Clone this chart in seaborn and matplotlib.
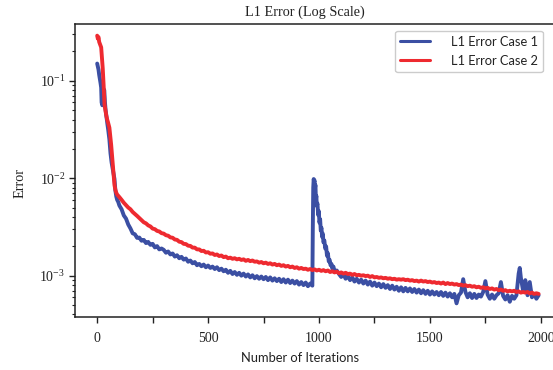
import matplotlib
matplotlib.use("Agg")
import numpy as np
import pandas as pd
import seaborn as sns
import matplotlib.pyplot as plt
from matplotlib.ticker import FixedLocator, FixedFormatter

# ---------------- data ----------------
iter_case1 = ([0, 3, 6, 9, 12, 15, 18, 20, 23, 26, 29, 32, 35, 38, 42, 46, 50, 55, 60, 65,
               70, 74, 78, 82, 86, 90, 95]
              + list(range(100, 970, 10))
              + [970, 972, 974, 976, 978, 980, 982, 984, 986, 988, 990, 993, 996, 999, 1002,
                 1005, 1008, 1011, 1014, 1017, 1020, 1024, 1028, 1032, 1036, 1040, 1044, 1048,
                 1052, 1056, 1060, 1065, 1070, 1080, 1090]
              + list(range(1100, 1900, 10))
              + [1900, 1905, 1910, 1920, 1930, 1940, 1950, 1960, 1970, 1980, 1990])

err_case1 = ([0.15, 0.14, 0.13, 0.115, 0.105, 0.095, 0.085, 0.060, 0.056, 0.058, 0.082, 0.080,
              0.060, 0.050, 0.042, 0.036, 0.031, 0.025, 0.018, 0.0145, 0.0125, 0.011, 0.0098,
              0.0075, 0.0065, 0.0060, 0.0057]
             # 100 .. 960
             + [0.00525, 0.00480, 0.00415, 0.00385, 0.00335, 0.00305, 0.00272, 0.00266, 0.00244, 0.00246,
                0.00228, 0.00233, 0.00216, 0.00222, 0.00207, 0.00212, 0.00195, 0.00201, 0.00186, 0.00190,
                0.00184, 0.00172, 0.00177, 0.00165, 0.00169, 0.00157, 0.00162, 0.00151, 0.00156, 0.00146,
                0.00150, 0.00139, 0.00143, 0.00134, 0.00138, 0.00128, 0.00132, 0.00125, 0.00130, 0.00122,
                0.00127, 0.00120, 0.00124, 0.00117, 0.00122, 0.00114, 0.00118, 0.00111, 0.00115, 0.00107,
                0.00112, 0.00104, 0.00109, 0.00102, 0.00107, 0.00100, 0.00105, 0.00098, 0.00103, 0.00096,
                0.00101, 0.00094, 0.00099, 0.00093, 0.00098, 0.00092, 0.00097, 0.00090, 0.00096, 0.00089,
                0.00094, 0.00088, 0.00093, 0.00086, 0.00092, 0.00085, 0.00091, 0.00084, 0.00089, 0.00083,
                0.00088, 0.00081, 0.00086, 0.00080, 0.00085, 0.00078, 0.00083]
             # spike near 1000
             + [0.00079, 0.0030, 0.0080, 0.0098, 0.0092, 0.0095, 0.0080, 0.0085, 0.0060, 0.0066,
                0.0052, 0.0055, 0.0042, 0.0046, 0.0035, 0.0038, 0.0029, 0.0031, 0.0025, 0.0027,
                0.0022, 0.0023, 0.0019, 0.0020, 0.0016, 0.0017, 0.0014, 0.00145, 0.00128, 0.00132,
                0.00118, 0.00124, 0.00110, 0.00113, 0.00104]
             # 1100 .. 1890
             + [0.00097, 0.00103, 0.00093, 0.00099, 0.00090, 0.00096, 0.00087, 0.00093, 0.00085, 0.00091,
                0.00083, 0.00089, 0.00081, 0.00087, 0.00079, 0.00085, 0.00078, 0.00083, 0.00076, 0.00082,
                0.00075, 0.00080, 0.00073, 0.00079, 0.00072, 0.00077, 0.00070, 0.00076, 0.00069, 0.00075,
                0.00069, 0.00074, 0.00068, 0.00073, 0.00067, 0.00072, 0.00066, 0.00071, 0.00065, 0.00070,
                0.00064, 0.00069, 0.00064, 0.00068, 0.00063, 0.00068, 0.00062, 0.00067, 0.00061, 0.00066,
                0.00060, 0.00065, 0.00052, 0.00063, 0.00067, 0.00092, 0.00068, 0.00060, 0.00066, 0.00059,
                0.00065, 0.00059, 0.00064, 0.00061, 0.00068, 0.00088, 0.00064, 0.00058, 0.00064, 0.00058,
                0.00063, 0.00066, 0.00086, 0.00062, 0.00057, 0.00063, 0.00054, 0.00062, 0.00058, 0.00063]
             # 1900 .. 1990
             + [0.00105, 0.00120, 0.00095, 0.00070, 0.00090, 0.00063, 0.00086, 0.00060, 0.00065,
                0.00058, 0.00063])

iter_case2 = ([0, 3, 6, 9, 12, 15, 18, 21, 25, 29, 33, 37, 41, 45, 48, 52, 55, 59, 63, 67,
               70, 74, 78, 82, 86, 90, 95]
              + list(range(100, 2000, 10)))

err_case2 = ([0.29, 0.27, 0.28, 0.25, 0.24, 0.23, 0.22, 0.18, 0.134, 0.09, 0.057, 0.050, 0.044,
              0.040, 0.038, 0.035, 0.033, 0.027, 0.022, 0.017, 0.0137, 0.011, 0.0085, 0.0076,
              0.0071, 0.0068, 0.0066]
             + [0.0064, 0.0060, 0.0056, 0.0053, 0.0050, 0.0048, 0.0045, 0.0043, 0.0041, 0.0039,
                0.00372, 0.00353, 0.00344, 0.00328, 0.00320, 0.00304, 0.00300, 0.00288, 0.00284, 0.00273,
                0.00270, 0.00260, 0.00257, 0.00247, 0.00245, 0.00235, 0.00233, 0.00223, 0.00221, 0.00212,
                0.00211, 0.00203, 0.00202, 0.00194, 0.00194, 0.00186, 0.00186, 0.00179, 0.00180, 0.00173,
                0.00174, 0.00168, 0.00169, 0.00163, 0.00165, 0.00159, 0.00161, 0.00155, 0.00157, 0.00151,
                0.00153, 0.00149, 0.00151, 0.00147, 0.00149, 0.00145, 0.00147, 0.00142, 0.00145, 0.00141,
                0.00143, 0.00139, 0.00140, 0.00136, 0.00138, 0.00134, 0.00136, 0.00132, 0.00134, 0.00130,
                0.00132, 0.00128, 0.00130, 0.00126, 0.00128, 0.00124, 0.00126, 0.00122, 0.00124, 0.00120,
                0.00122, 0.00118, 0.00120, 0.00117, 0.00118, 0.00115, 0.00117, 0.00114, 0.00116, 0.00113,
                0.00115, 0.00112, 0.00114, 0.00111, 0.00113, 0.00109, 0.00111, 0.00108, 0.00110, 0.00106,
                0.00108, 0.00105, 0.00107, 0.00104, 0.00105, 0.00102, 0.00104, 0.00101, 0.00102, 0.00100,
                0.00101, 0.00099, 0.00100, 0.00097, 0.00099, 0.00096, 0.00097, 0.00095, 0.00096, 0.00094,
                0.00095, 0.00093, 0.00094, 0.00092, 0.00093, 0.00091, 0.00092, 0.00091, 0.00092, 0.00090,
                0.00091, 0.00089, 0.00090, 0.00088, 0.00089, 0.00087, 0.00089, 0.00087, 0.00088, 0.00086,
                0.00087, 0.00085, 0.00086, 0.00084, 0.00085, 0.00083, 0.00085, 0.00082, 0.00084, 0.00082,
                0.00083, 0.00081, 0.00082, 0.00080, 0.00081, 0.00079, 0.00080, 0.00078, 0.00079, 0.00077,
                0.00078, 0.00076, 0.00077, 0.00075, 0.00076, 0.00074, 0.00075, 0.00073, 0.00074, 0.00072,
                0.00073, 0.00071, 0.00072, 0.00070, 0.00071, 0.00069, 0.00070, 0.00069, 0.00070, 0.00068,
                0.00069, 0.00067, 0.00068, 0.00067, 0.00068, 0.00066, 0.00067, 0.00065, 0.00066, 0.00065])

series_names = ["L1 Error Case 1", "L1 Error Case 2"]
series_colors = ["#3B4FA3", "#EE2A30"]
x_ticks = [0, 250, 500, 750, 1000, 1250, 1500, 1750, 2000]
x_tick_labels = ["0", "", "500", "", "1000", "", "1500", "", "2000"]

# ---------------- figure ----------------
sns.set_style("ticks")
plt.rcParams["font.family"] = ["Liberation Serif", "DejaVu Serif"]
plt.rcParams["mathtext.fontset"] = "custom"
plt.rcParams["mathtext.rm"] = "Liberation Serif"
plt.rcParams["mathtext.it"] = "Liberation Serif:italic"

df = pd.concat([
    pd.DataFrame({"Iteration": iter_case1, "Error": err_case1, "Case": series_names[0]}),
    pd.DataFrame({"Iteration": iter_case2, "Error": err_case2, "Case": series_names[1]}),
], ignore_index=True)

W, H = 553, 370
fig = plt.figure(figsize=(W / 100, H / 100), dpi=100)
ax_left, ax_right, ax_top, ax_bottom = 75, 562.8, 24, 317
ax = fig.add_axes([ax_left / W, 1 - ax_bottom / H, (ax_right - ax_left) / W, (ax_bottom - ax_top) / H])

sns.lineplot(data=df, x="Iteration", y="Error", hue="Case", palette=series_colors,
             estimator=None, sort=False, linewidth=2.8, ax=ax)

ax.set_yscale("log")
ax.set_xlim(-100, 2099)
ax.set_ylim(10 ** -3.424, 10 ** -0.418)

ax.xaxis.set_major_locator(FixedLocator(x_ticks))
ax.xaxis.set_major_formatter(FixedFormatter(x_tick_labels))

for side in ["left", "bottom", "top", "right"]:
    ax.spines[side].set_visible(True)
    ax.spines[side].set_color("#222222")
    ax.spines[side].set_linewidth(1.1)

ax.tick_params(axis="x", which="major", direction="out", length=4, width=1.0,
               labelsize=10, pad=7, colors="#222222")
ax.tick_params(axis="y", which="major", direction="out", length=4, width=1.0,
               labelsize=10, pad=3, colors="#222222")
ax.tick_params(axis="y", which="minor", direction="out", length=2.5, width=0.8, colors="#222222")

ax.set_title("L1 Error (Log Scale)", fontsize=10.3, x=(305 - ax_left) / (ax_right - ax_left),
             y=(ax_bottom - 12) / (ax_bottom - ax_top), va="center", pad=0, color="#222222")

ax.set_xlabel("Number of Iterations", family=["Lato", "DejaVu Sans"], fontsize=9.3,
              va="center", color="#222222")
ax.xaxis.set_label_coords((300 - ax_left) / (ax_right - ax_left), (ax_bottom - 358) / (ax_bottom - ax_top))
ax.set_ylabel("Error", fontsize=10.3, va="center", color="#222222")
ax.yaxis.set_label_coords((20 - ax_left) / (ax_right - ax_left), (ax_bottom - 183) / (ax_bottom - ax_top))

handles, labels = ax.get_legend_handles_labels()
leg = ax.legend(handles, labels, loc="upper left",
                bbox_to_anchor=(395 / W, 1 - 30.7 / H), bbox_transform=fig.transFigure,
                borderaxespad=0, prop={"family": ["Lato", "DejaVu Sans"], "size": 9.3},
                handlelength=2.3, handletextpad=1.6, labelspacing=0.55,
                frameon=True, fancybox=True, edgecolor="#cccccc", framealpha=1.0)
for line in leg.get_lines():
    line.set_linewidth(2.2)
for t in leg.get_texts():
    t.set_color("#222222")

fig.savefig("out.png", dpi=100)
